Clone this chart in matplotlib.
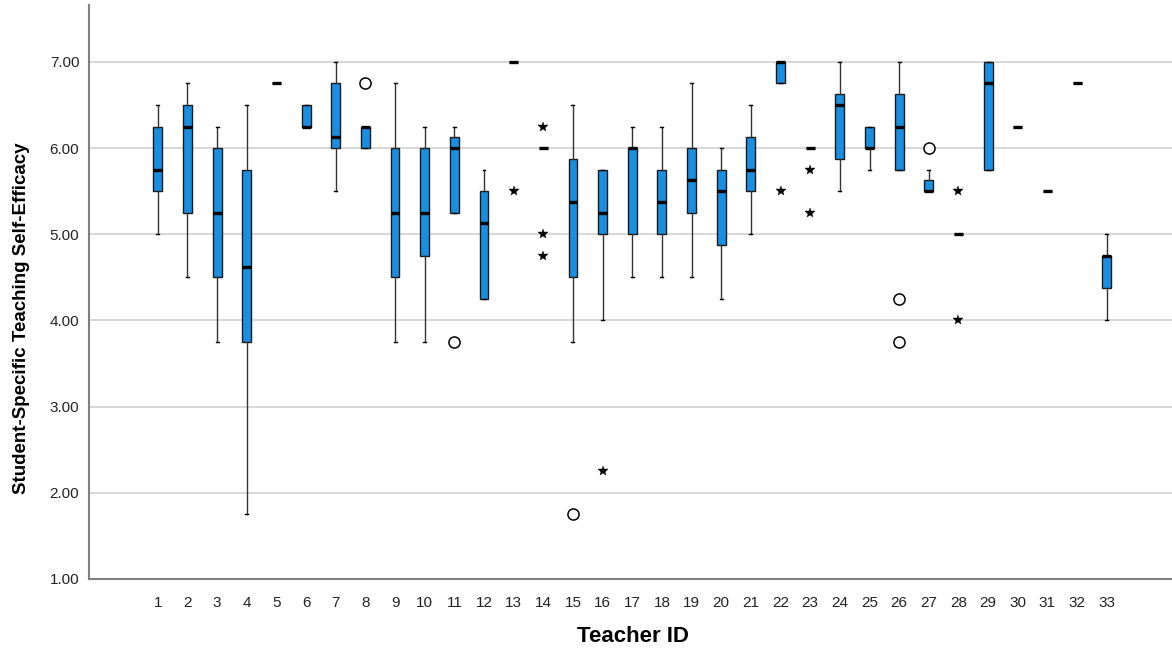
import matplotlib

matplotlib.use('Agg')

import matplotlib.pyplot as plt
from matplotlib.ticker import FormatStrFormatter

plt.rcParams['font.family'] = ['Liberation Sans', 'DejaVu Sans']

# Teacher IDs and five-number summaries
teacher_ids = list(range(1, 34))
whisker_low = [5.0, 4.5, 3.75, 1.75, 6.75, 6.25, 5.5, 6.0, 3.75, 3.75, 5.25,
               4.25, 7.0, 6.0, 3.75, 4.0, 4.5, 4.5, 4.5, 4.25, 5.0, 6.75,
               6.0, 5.5, 5.75, 5.75, 5.5, 5.0, 5.75, 6.25, 5.5, 6.75, 4.0]
q1 = [5.5, 5.25, 4.5, 3.75, 6.75, 6.25, 6.0, 6.0, 4.5, 4.75, 5.25,
      4.25, 7.0, 6.0, 4.5, 5.0, 5.0, 5.0, 5.25, 4.875, 5.5, 6.75,
      6.0, 5.875, 6.0, 5.75, 5.5, 5.0, 5.75, 6.25, 5.5, 6.75, 4.375]
medians = [5.75, 6.25, 5.25, 4.625, 6.75, 6.25, 6.125, 6.25, 5.25, 5.25, 6.0,
           5.125, 7.0, 6.0, 5.375, 5.25, 6.0, 5.375, 5.625, 5.5, 5.75, 7.0,
           6.0, 6.5, 6.0, 6.25, 5.5, 5.0, 6.75, 6.25, 5.5, 6.75, 4.75]
q3 = [6.25, 6.5, 6.0, 5.75, 6.75, 6.5, 6.75, 6.25, 6.0, 6.0, 6.125,
      5.5, 7.0, 6.0, 5.875, 5.75, 6.0, 5.75, 6.0, 5.75, 6.125, 7.0,
      6.0, 6.625, 6.25, 6.625, 5.625, 5.0, 7.0, 6.25, 5.5, 6.75, 4.75]
whisker_high = [6.5, 6.75, 6.25, 6.5, 6.75, 6.5, 7.0, 6.25, 6.75, 6.25, 6.25,
                5.75, 7.0, 6.0, 6.5, 5.75, 6.25, 6.25, 6.75, 6.0, 6.5, 7.0,
                6.0, 7.0, 6.25, 7.0, 5.75, 5.0, 7.0, 6.25, 5.5, 6.75, 5.0]

# outliers (circles) and extreme values (stars), keyed by teacher ID
outliers = {8: [6.75], 11: [3.75], 15: [1.75], 26: [4.25, 3.75], 27: [6.0]}
extremes = {13: [5.5], 14: [6.25, 5.0, 4.75], 16: [2.25], 22: [5.5],
            23: [5.75, 5.25], 28: [5.5, 4.0]}

y_ticks = [1, 2, 3, 4, 5, 6, 7]

BOX_COLOR = '#1a8ee0'


def build_stats():
    stats = []
    for i, tid in enumerate(teacher_ids):
        stats.append({
            'whislo': whisker_low[i],
            'q1': q1[i],
            'med': medians[i],
            'q3': q3[i],
            'whishi': whisker_high[i],
            'fliers': outliers.get(tid, []),
        })
    return stats


def main():
    fig = plt.figure(figsize=(11.72, 6.53), dpi=100)
    ax = fig.add_axes([89 / 1172, 1 - 579 / 653, 1 - 89 / 1172, (579 - 5) / 653])

    ax.set_axisbelow(True)
    ax.yaxis.grid(True, color='#d4d4d4', linewidth=1.3)

    ax.bxp(
        build_stats(),
        positions=teacher_ids,
        widths=0.3,
        capwidths=0.1,
        patch_artist=True,
        showfliers=True,
        boxprops=dict(facecolor=BOX_COLOR, edgecolor='#1a1a1a', linewidth=1.0),
        medianprops=dict(color='black', linewidth=2.4, solid_capstyle='butt'),
        whiskerprops=dict(color='#333333', linewidth=1.0),
        capprops=dict(color='black', linewidth=1.0),
        flierprops=dict(marker='o', markersize=8, markerfacecolor='white',
                        markeredgecolor='black', markeredgewidth=1.1),
    )

    for tid, values in extremes.items():
        ax.plot([tid] * len(values), values, linestyle='none', marker='*',
                markersize=7.5, color='black', markeredgewidth=0.3)

    ax.set_xlim(-1.32, 35.2)
    ax.set_ylim(1, 7.66)
    ax.set_yticks(y_ticks)
    ax.yaxis.set_major_formatter(FormatStrFormatter('%.2f'))
    ax.set_xticks(teacher_ids)
    ax.set_xticklabels([str(t) for t in teacher_ids])
    ax.tick_params(axis='both', length=0, labelsize=11, colors='#222222')
    ax.tick_params(axis='y', pad=7)
    ax.tick_params(axis='x', pad=12)

    for side in ('top', 'right'):
        ax.spines[side].set_visible(False)
    for side in ('left', 'bottom'):
        ax.spines[side].set_color('#808080')
        ax.spines[side].set_linewidth(1.5)

    fig.text(22 / 1172, 1 - 318 / 653, 'Student-Specific Teaching Self-Efficacy',
             rotation=90, ha='center', va='center', fontsize=13.5,
             fontweight='bold')
    fig.text(633 / 1172, 1 - 637 / 653, 'Teacher ID', ha='center', va='center',
             fontsize=16, fontweight='bold')

    fig.savefig('out.png', dpi=100)
    plt.close(fig)


if __name__ == '__main__':
    main()
